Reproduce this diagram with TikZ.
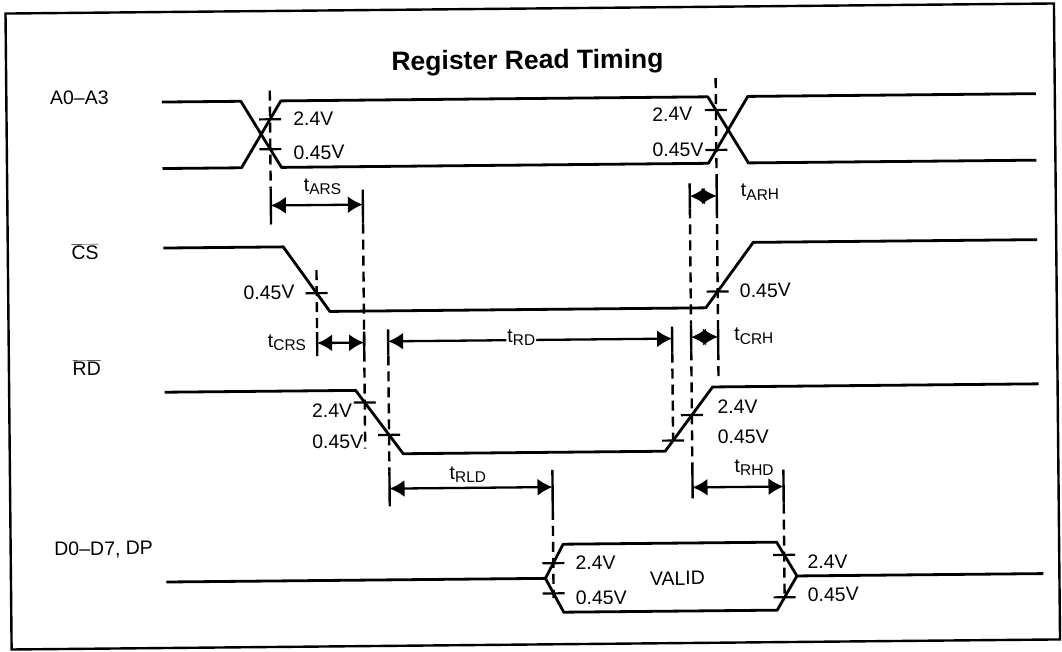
\documentclass[tikz,border=0pt]{standalone}
\usepackage{fontspec}
\setmainfont{Liberation Sans}
\usetikzlibrary{arrows.meta}
\tikzset{
  sig/.style={line width=2.8pt, line join=round},
  dsh/.style={line width=2.4pt, dash pattern=on 10pt off 6pt},
  bnd/.style={line width=2.4pt},
  tk/.style={line width=2.2pt},
  dim/.style={line width=2.3pt, {Latex[length=15pt,width=17pt]}-{Latex[length=15pt,width=17pt]}},
  lbl/.style={font=\fontsize{19.5}{20}\selectfont, inner sep=0pt, text height=14pt, text depth=0pt},
  tlbl/.style={font=\fontsize{19.5}{20}\selectfont, inner sep=0pt},
}
\newcommand{\tsub}[1]{t\raisebox{-3.5pt}{\fontsize{15.5}{16}\selectfont #1}}
\begin{document}
\begin{tikzpicture}[x=1pt,y=-1pt]
\useasboundingbox (0,0) rectangle (1062,651);
\begin{scope}[rotate around={0.55:(531,325)}, transform shape]
% frame
\draw[line width=2.4pt] (8.5,8.5) rectangle (1057,644.5);
% title
\node[font=\fontsize{26.5}{27}\selectfont\bfseries, anchor=base, inner sep=0pt] (title) at (530,69) {Register Read Timing};
% signal names
\node[lbl, anchor=west] (na) at (52,93) {A0–A3};
\node[lbl, anchor=west] (ncs) at (72,248) {$\overline{\hbox{CS}}$};
\node[lbl, anchor=west] (nrd) at (72,364) {$\overline{\hbox{RD}}$};
\node[lbl, anchor=west] (nd) at (52,544) {D0–D7, DP};
% A0-A3
\draw[sig] (164,98.5) -- (243,98.5) -- (283,165) -- (710,165) -- (750,98.5) -- (1038,98.5);
\draw[sig] (164,165) -- (243,165) -- (283,98.5) -- (710,98.5) -- (750,165) -- (1038,165);
% CS
\draw[sig] (164,244.5) -- (284,244.5) -- (330,309.5) -- (706,309.5) -- (754,244.5) -- (1038,244.5);
% RD
\draw[sig] (164,388.7) -- (355,388.7) -- (402,452.5) -- (664,452.5) -- (712,388.7) -- (1038,388.7);
% Data
\draw[sig] (164,578.5) -- (543,578.5) -- (561,544.5) -- (774.5,544.5) -- (794.5,578.5) -- (1041,578.5);
\draw[sig] (543,578.5) -- (561,612.5) -- (774.5,612.5) -- (794.5,578.5);
% ticks
\draw[tk] (261,116.8) -- (283,116.8);
\draw[tk] (261,146.7) -- (283,146.7);
\draw[tk] (707,111.8) -- (729,111.8);
\draw[tk] (707,151.7) -- (729,151.7);
\draw[tk] (306,291.1) -- (328,291.1);
\draw[tk] (707,293.3) -- (729,293.3);
\draw[tk] (353,400.9) -- (375,400.9);
\draw[tk] (377,433.5) -- (399,433.5);
\draw[tk] (661,441.9) -- (683,441.9);
\draw[tk] (680,416.6) -- (702,416.6);
\draw[tk] (540,563.4) -- (562,563.4);
\draw[tk] (540,593.6) -- (562,593.6);
\draw[tk] (771,557.3) -- (793,557.3);
\draw[tk] (771,599.7) -- (793,599.7);
% dashed and bound lines
\draw[dsh] (272,88) -- (272,186);  \draw[bnd] (272,186) -- (272,222);
\draw[bnd] (364,188) -- (364,222); \draw[dsh] (364,222) -- (364,447); \draw[bnd] (364,330) -- (364,354);
\draw[dsh] (317,268) -- (317,330); \draw[bnd] (317,330) -- (317,354);
\draw[bnd] (388,328) -- (388,354); \draw[dsh] (388,354) -- (388,470); \draw[bnd] (388,470) -- (388,505);
\draw[bnd] (672,328) -- (672,354); \draw[dsh] (672,354) -- (672,442);
\draw[bnd] (691,185) -- (691,210); \draw[dsh] (691,210) -- (691,326); \draw[bnd] (691,326) -- (691,352);
\draw[dsh] (691,352) -- (691,464); \draw[bnd] (691,464) -- (691,500);
\draw[dsh] (718,80) -- (718,185); \draw[bnd] (718,185) -- (718,210); \draw[dsh] (718,210) -- (718,326);
\draw[bnd] (718,326) -- (718,352); \draw[dsh] (718,352) -- (718,378);
\draw[bnd] (551,470) -- (551,510); \draw[dsh] (551,510) -- (551,598);
\draw[bnd] (782,472) -- (782,506); \draw[dsh] (782,506) -- (782,600);
% dimension arrows
\coordinate (ars1) at (272,203); \coordinate (ars2) at (364,203);
\coordinate (arh1) at (691,197.7); \coordinate (arh2) at (718,197.7);
\coordinate (crs1) at (317,341); \coordinate (crs2) at (364,341);
\coordinate (rd1) at (388,340); \coordinate (rd2) at (672,340);
\coordinate (crh1) at (691,338.7); \coordinate (crh2) at (718,338.7);
\coordinate (rld1) at (388,487.3); \coordinate (rld2) at (551,487.3);
\coordinate (rhd1) at (691,489); \coordinate (rhd2) at (782,489);
\draw[dim] (ars1) -- (ars2);
\draw[dim] (arh1) -- (arh2);
\draw[dim] (crs1) -- (crs2);
\draw[dim] (rd1) -- (rd2);
\draw[dim] (crh1) -- (crh2);
\draw[dim] (rld1) -- (rld2);
\draw[dim] (rhd1) -- (rhd2);
% timing labels
\node[tlbl, anchor=base west] (lars) at (305,189) {\tsub{ARS}};
\node[tlbl, anchor=base west] (larh) at (742,198.7) {\tsub{ARH}};
\node[tlbl, anchor=base east] (lcrs) at (306,345) {\tsub{CRS}};
\node[tlbl, anchor=base west, fill=white, inner xsep=1pt] (lrd) at (506,342) {\tsub{RD}};
\node[tlbl, anchor=base west] (lcrh) at (734,342.7) {\tsub{CRH}};
\node[tlbl, anchor=base west] (lrld) at (448,478.3) {\tsub{RLD}};
\node[tlbl, anchor=base west] (lrhd) at (733,474) {\tsub{RHD}};
% level labels
\node[lbl, anchor=west] (v1) at (295,116) {2.4V};
\node[lbl, anchor=west] (v2) at (295,150) {0.45V};
\node[lbl, anchor=west] (v3) at (654,115.3) {2.4V};
\node[lbl, anchor=west] (v4) at (654,150.8) {0.45V};
\node[lbl, anchor=east] (v5) at (295,289.5) {0.45V};
\node[lbl, anchor=west] (v6) at (740,292.3) {0.45V};
\node[lbl, anchor=west] (v7) at (311,408.8) {2.4V};
\node[lbl, anchor=west] (v8) at (311,439.8) {0.45V};
\node[lbl, anchor=west] (v9) at (716.5,408.3) {2.4V};
\node[lbl, anchor=west] (v10) at (716.5,438.3) {0.45V};
\node[lbl, anchor=west] (v11) at (573,563) {2.4V};
\node[lbl, anchor=west] (v12) at (573,598) {0.45V};
\node[lbl, anchor=west] (v13) at (805,564) {2.4V};
\node[lbl, anchor=west] (v14) at (805,597) {0.45V};
\node[lbl] (valid) at (675,579.4) {VALID};
\end{scope}
\end{tikzpicture}
\end{document}
